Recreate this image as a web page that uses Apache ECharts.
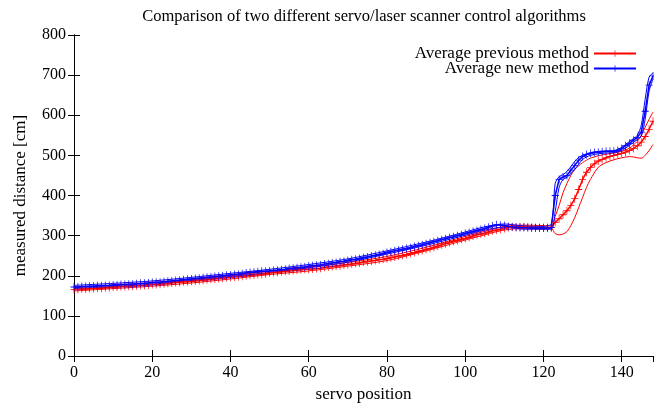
<!DOCTYPE html>
<html>
<head>
<meta charset="utf-8">
<script src="https://cdn.jsdelivr.net/npm/echarts@6/dist/echarts.min.js"></script>
<style>
  html, body { margin: 0; padding: 0; background: #fff; }
  #chart { width: 654px; height: 404px; }
</style>
</head>
<body>
<div id="chart"></div>
<script>
// servo positions 0..148
var servoPos = [];
for (var i = 0; i <= 148; i++) servoPos.push(i);

var prevAvg = [
  166,166,167,167,168,168,169,169,170,171,
  172,172,173,173,174,174,175,176,176,177,
  178,178,179,180,181,182,183,184,185,185,
  186,187,188,189,190,191,192,193,194,195,
  196,197,198,199,200,201,202,203,204,205,
  207,208,209,210,211,212,213,214,215,216,
  216,217,218,219,221,222,223,224,225,227,
  228,229,231,232,234,235,237,238,240,241,
  243,245,247,249,251,253,256,258,261,263,
  266,268,271,274,277,280,283,286,288,291,
  293,296,299,302,304,306,309,312,314,316,
  318,320,321,321,322,322,321,321,320,320,
  320,320,320,333,342,352,362,375,392,415,
  440,458,470,479,486,490,494,497,500,502,
  505,508,512,517,524,533,547,565,585
];
var newAvg = [
  172,172,173,173,174,174,175,175,176,176,
  177,177,178,178,179,179,180,181,181,182,
  183,184,184,185,186,187,188,189,190,191,
  192,193,194,195,196,197,198,199,200,201,
  202,203,204,205,207,208,209,210,211,211,
  212,213,214,215,216,218,219,220,221,222,
  224,225,226,227,229,230,232,233,235,236,
  238,240,241,243,245,247,249,251,253,255,
  258,260,262,264,266,268,270,273,275,277,
  280,282,285,287,290,292,295,297,300,302,
  305,308,310,313,315,318,321,324,327,326,
  325,323,322,321,320,320,320,319,319,319,
  319,319,320,400,440,446,450,463,475,488,
  497,502,505,507,508,509,510,510,510,512,
  517,524,530,538,545,558,610,675,698
];

// min / max envelopes (thin lines)
var envX = [0,10,20,30,40,50,60,70,80,90,100,105,110,115,120,122,123,124,125,126,127,128,129,130,131,132,134,136,138,140,142,143,144,145,146,147,148];
var prevHi = [170,176,182,190,200,211,221,233,248,271,298,311,323,326,325,324,348,375,407,430,450,465,474,482,488,493,499,503,506,510,518,526,535,550,570,590,608];
var prevLo = [162,168,174,182,192,203,212,224,238,262,289,302,314,318,316,318,305,302,304,310,325,345,370,395,420,440,470,482,489,494,497,496,494,493,500,512,527];
var newHi  = [176,181,187,196,206,216,228,242,262,284,309,322,329,324,323,330,430,447,452,460,472,485,495,500,504,507,510,511,512,520,535,542,550,575,640,695,705];
var newLo  = [168,173,179,188,198,208,220,234,254,276,301,314,321,316,316,316,360,420,440,445,455,465,478,490,496,500,504,506,507,512,525,532,540,548,590,660,690];

var xTicks = [0, 148, 20];
var yTicks = [0, 800, 100];

function pairs(xs, ys) {
  return xs.map(function (x, k) { return [x, ys[k]]; });
}

var plus = 'path://M0,4.5H10V5.5H0Z M4.5,0H5.5V10H4.5Z';
var serif = '"Liberation Serif", "DejaVu Serif", serif';

var chart = echarts.init(document.getElementById('chart'), null, { renderer: 'canvas' });

function avgSeries(name, color, ys) {
  return {
    name: name,
    type: 'line',
    data: pairs(servoPos, ys),
    symbol: plus,
    symbolSize: [7, 8],
    showAllSymbol: true,
    lineStyle: { color: color, width: 1.5 },
    itemStyle: { color: color },
    animation: false
  };
}
function envSeries(color, ys) {
  return {
    type: 'line',
    data: pairs(envX, ys),
    smooth: 0.3,
    showSymbol: false,
    lineStyle: { color: color, width: 1 },
    silent: true,
    animation: false
  };
}

var axisLineStyle = { show: true, lineStyle: { color: '#000', width: 1 } };
var tickStyle = { show: true, inside: true, length: 6, lineStyle: { color: '#000' } };

chart.setOption({
  backgroundColor: '#fff',
  animation: false,
  title: {
    text: 'Comparison of two different servo/laser scanner control algorithms',
    left: 359,
    textAlign: 'center',
    top: 3,
    textStyle: { fontFamily: serif, fontWeight: 'normal', fontSize: 16.5, color: '#000' }
  },
  legend: {
    data: ['Average previous method', 'Average new method'],
    orient: 'vertical',
    right: 12,
    top: 40,
    align: 'right',
    itemWidth: 42,
    itemHeight: 8,
    itemGap: -2,
    textStyle: { fontFamily: serif, fontSize: 17, color: '#000', lineHeight: 14, padding: [0, 0, 0, 0] }
  },
  grid: { left: 74, right: 1, top: 35, bottom: 48, outerBoundsMode: 'none' },
  xAxis: [
    {
      type: 'value',
      min: xTicks[0], max: xTicks[1], interval: xTicks[2],
      name: 'servo position',
      nameLocation: 'middle',
      nameGap: 30,
      nameTextStyle: { fontFamily: serif, fontSize: 17, color: '#000' },
      axisLine: axisLineStyle,
      axisTick: tickStyle,
      axisLabel: { fontFamily: serif, fontSize: 16, color: '#000', margin: 9, showMaxLabel: false },
      splitLine: { show: false }
    },
    {
      type: 'value', position: 'top',
      min: xTicks[0], max: xTicks[1], interval: xTicks[2],
      axisLine: axisLineStyle,
      axisTick: tickStyle,
      axisLabel: { show: false },
      splitLine: { show: false }
    }
  ],
  yAxis: [
    {
      type: 'value',
      min: yTicks[0], max: yTicks[1], interval: yTicks[2],
      name: 'measured distance [cm]',
      nameLocation: 'middle',
      nameGap: 45,
      nameTextStyle: { fontFamily: serif, fontSize: 17, color: '#000' },
      axisLine: axisLineStyle,
      axisTick: tickStyle,
      axisLabel: { fontFamily: serif, fontSize: 16, color: '#000', margin: 8 },
      splitLine: { show: false }
    },
    {
      type: 'value', position: 'right',
      min: yTicks[0], max: yTicks[1], interval: yTicks[2],
      axisLine: axisLineStyle,
      axisTick: tickStyle,
      axisLabel: { show: false },
      splitLine: { show: false }
    }
  ],
  series: [
    envSeries('#ff0000', prevHi),
    envSeries('#ff0000', prevLo),
    avgSeries('Average previous method', '#ff0000', prevAvg),
    envSeries('#0000ff', newHi),
    envSeries('#0000ff', newLo),
    avgSeries('Average new method', '#0000ff', newAvg)
  ]
});
</script>
</body>
</html>
